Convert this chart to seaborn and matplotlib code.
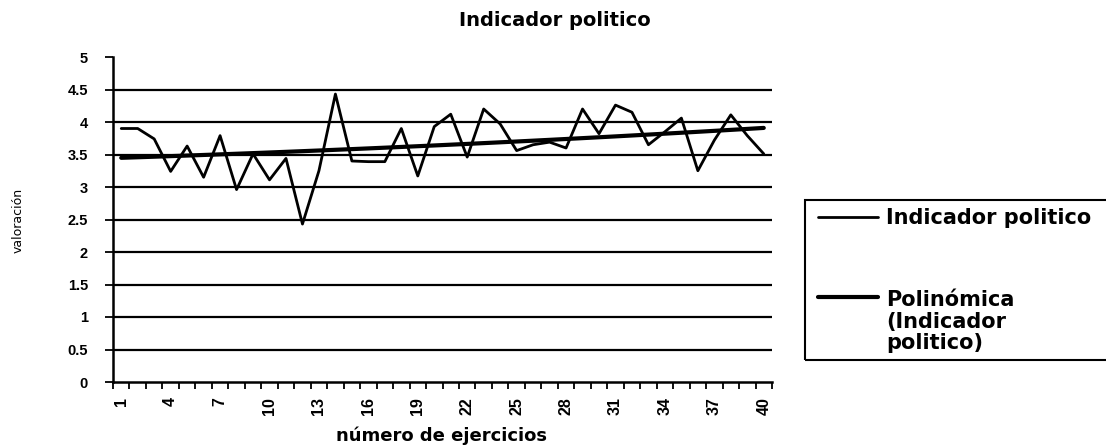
import matplotlib
matplotlib.use("Agg")
import matplotlib.pyplot as plt
import matplotlib.patches as mpatches
from matplotlib.ticker import FixedLocator
from matplotlib.legend_handler import HandlerLine2D
import numpy as np
import pandas as pd
import seaborn as sns

# ---- data ----
ejercicios = list(range(1, 41))
indicador = [3.90, 3.90, 3.74, 3.24, 3.63, 3.15, 3.79, 2.96, 3.51, 3.11,
             3.44, 2.43, 3.25, 4.43, 3.40, 3.39, 3.39, 3.90, 3.17, 3.93,
             4.12, 3.46, 4.20, 3.97, 3.56, 3.65, 3.69, 3.60, 4.20, 3.82,
             4.26, 4.15, 3.65, 3.85, 4.06, 3.25, 3.72, 4.11, 3.79, 3.51]
xtick_vals = list(range(1, 41, 3))
ytick_vals = [0, 0.5, 1, 1.5, 2, 2.5, 3, 3.5, 4, 4.5, 5]
ytick_labels = ["0", "0.5", "1", "1.5", "2", "2.5", "3", "3.5", "4", "4.5", "5"]
grid_vals = [0.5, 1, 1.5, 2, 2.5, 3, 3.5, 4, 4.5]
title = "Indicador politico"
xlabel = "número de ejercicios"
ylabel = "valoración"
serie1 = "Indicador politico"
serie2 = "Polinómica\n(Indicador\npolitico)"

df = pd.DataFrame({"ejercicio": ejercicios, "valor": indicador})

sns.set_style("white")
plt.rcParams["font.family"] = ["Liberation Sans", "DejaVu Sans"]
plt.rcParams["text.color"] = "black"
plt.rcParams["axes.labelcolor"] = "black"
plt.rcParams["xtick.color"] = "black"
plt.rcParams["ytick.color"] = "black"

W, H = 1106, 448
fig = plt.figure(figsize=(W / 100, H / 100), dpi=100)
ax = fig.add_axes([113 / W, 1 - 382 / H, (772 - 113) / W, (382 - 57) / H])

for g in grid_vals:
    ax.axhline(g, color="black", lw=1.6, zorder=1)

sns.lineplot(data=df, x="ejercicio", y="valor", color="black", lw=2.0,
             ax=ax, label=serie1, zorder=3)
sns.regplot(data=df, x="ejercicio", y="valor", order=2, ci=None,
            scatter=False, ax=ax, label=serie2,
            line_kws=dict(color="black", lw=3.0, zorder=4))

ax.set_xlim(0.5, 40.5)
ax.set_ylim(0, 5)
ax.set_xlabel("")
ax.set_ylabel("")

for s in ["top", "right"]:
    ax.spines[s].set_visible(False)
for s in ["left", "bottom"]:
    ax.spines[s].set_color("black")
    ax.spines[s].set_linewidth(1.8)

ax.set_xticks(xtick_vals)
ax.set_xticklabels([str(v) for v in xtick_vals], rotation=90,
                   fontsize=11.5, fontweight="bold", color="black")
ax.xaxis.set_minor_locator(FixedLocator(np.arange(0.5, 41, 1)))
ax.tick_params(axis="x", which="major", length=0, pad=11)
ax.tick_params(axis="x", which="minor", length=5, width=1.3, color="black",
               direction="out", bottom=True)
ax.set_yticks(ytick_vals)
ax.set_yticklabels(ytick_labels, fontsize=10.5, fontweight="bold",
                   color="black")
ax.tick_params(axis="y", length=6, width=1.3, color="black", direction="out",
               left=True, pad=12)

fig.text(555 / W, 1 - 21 / H, title, ha="center", va="center",
         fontsize=14, fontweight="bold", family="DejaVu Sans", color="black")
fig.text(442 / W, 1 - 436 / H, xlabel, ha="center", va="center",
         fontsize=13, fontweight="bold", family="DejaVu Sans", color="black")
fig.text(18 / W, 1 - 220 / H, ylabel, ha="center", va="center",
         rotation=90, fontsize=9, family="DejaVu Sans", color="black")


class HandlerShift(HandlerLine2D):
    def __init__(self, shift=0.0, **kw):
        super().__init__(**kw)
        self.shift = shift

    def create_artists(self, legend, orig_handle, xdescent, ydescent,
                       width, height, fontsize, trans):
        arts = super().create_artists(legend, orig_handle, xdescent, ydescent,
                                      width, height, fontsize, trans)
        for a in arts:
            a.set_ydata(np.asarray(a.get_ydata(), dtype=float) + self.shift)
        return arts


# legend box
fig.patches.append(mpatches.Rectangle((805 / W, 1 - 360 / H),
                                      (1115 - 805) / W, (360 - 200) / H,
                                      transform=fig.transFigure, fill=False,
                                      edgecolor="black", lw=1.5))
handles, labels = ax.get_legend_handles_labels()
leg = ax.legend(handles, labels, loc="upper left",
                bbox_to_anchor=(818 / W, 1 - 208 / H),
                bbox_transform=fig.transFigure, frameon=False,
                prop=dict(size=15, weight="bold", family="DejaVu Sans"),
                handlelength=2.9, handletextpad=0.38, labelspacing=3.0,
                borderaxespad=0, borderpad=0,
                handler_map={handles[1]: HandlerShift(shift=18.5)})
for t in leg.get_texts():
    t.set_linespacing(1.07)
    t.set_color("black")

fig.savefig("out.png", dpi=100)
